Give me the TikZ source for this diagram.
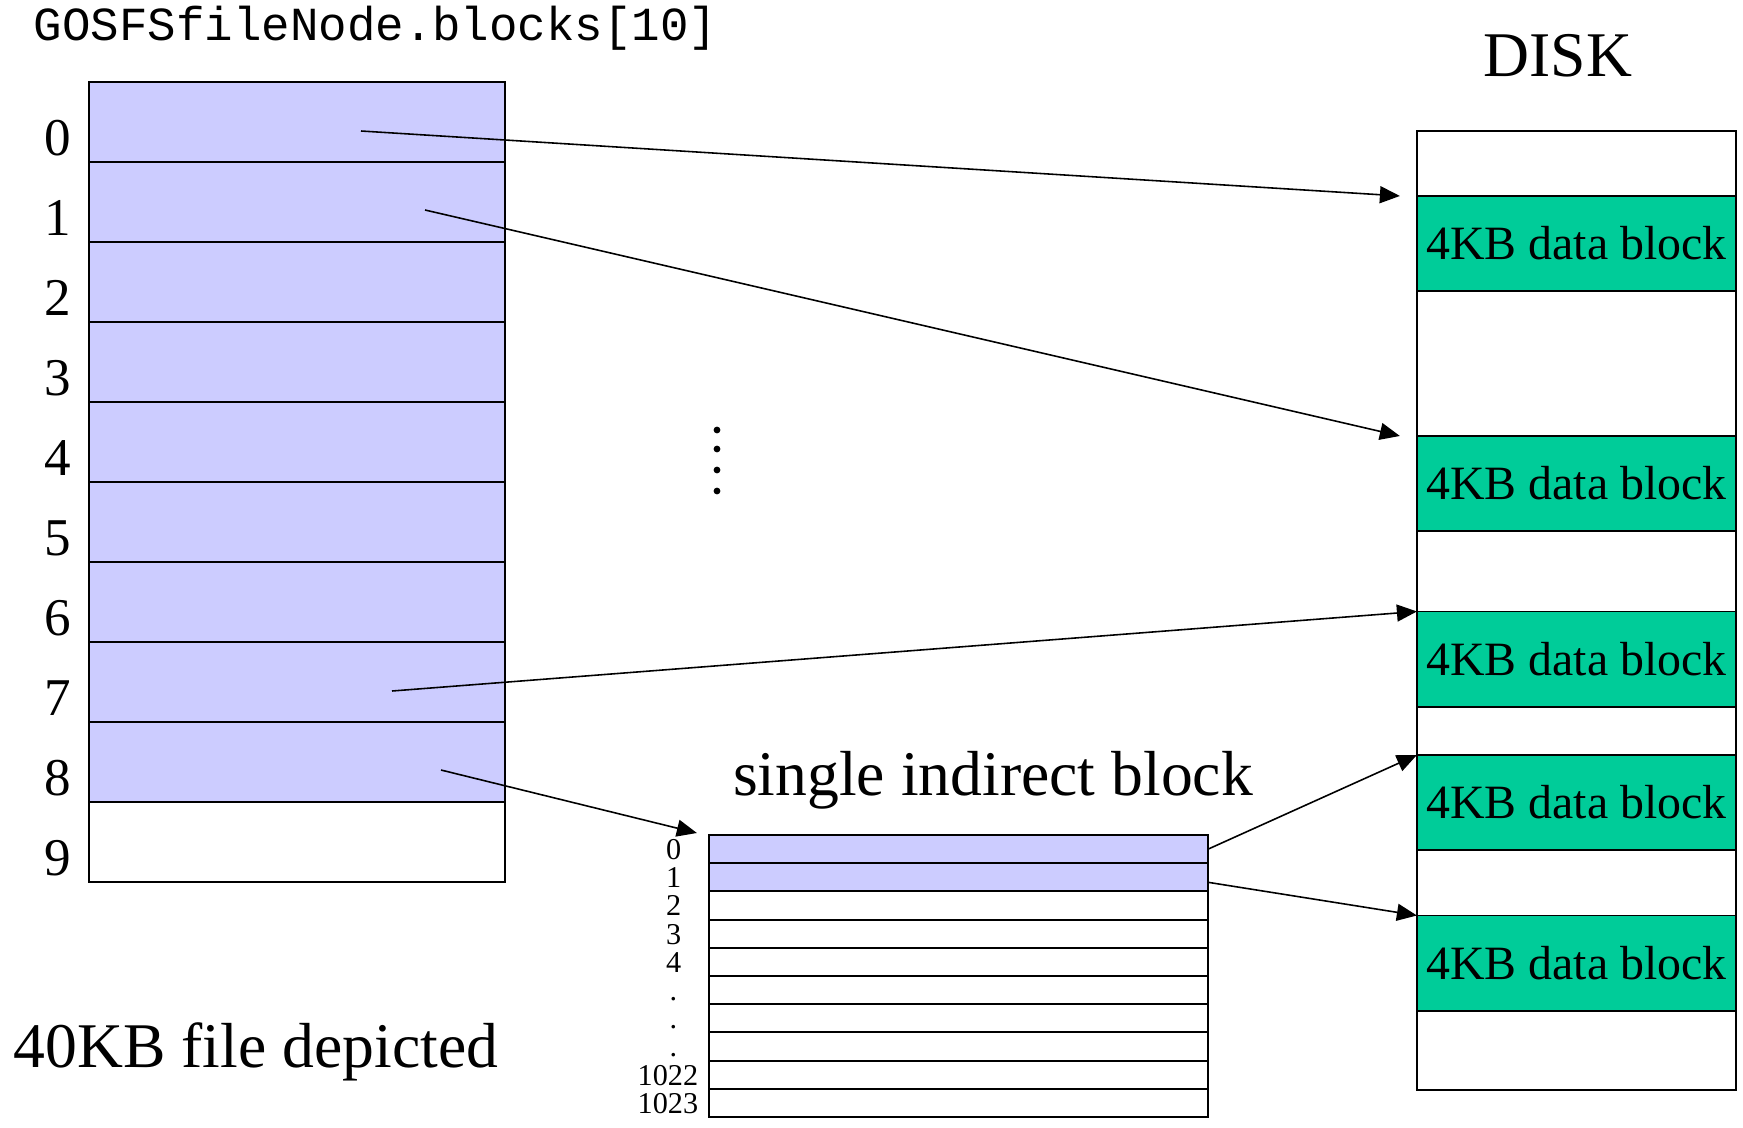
\documentclass[tikz,border=0pt]{standalone}
\usepackage{fontspec}
\setmainfont{Liberation Serif}
\setmonofont{Liberation Mono}
\usetikzlibrary{positioning,arrows.meta}
\definecolor{slotblue}{HTML}{CCCCFF}
\definecolor{diskgreen}{HTML}{00CC99}
\begin{document}
\begin{tikzpicture}[x=0.01cm,y=-0.01cm,
  slot/.style={draw,line width=0.55pt,minimum width=4.16cm,minimum height=0.8cm,inner sep=0pt,outer sep=0pt},
  islot/.style={draw,line width=0.55pt,minimum width=4.99cm,minimum height=0.282cm,inner sep=0pt,outer sep=0pt},
  dblock/.style={draw,line width=0.55pt,fill=diskgreen,minimum width=3.19cm,minimum height=0.95cm,inner sep=0pt,outer sep=0pt,font=\fontsize{13.6}{15}\selectfont},
  rowlabel/.style={inner sep=0pt,font=\fontsize{15.1}{17}\selectfont,text height=10.3pt,text depth=0pt},
  idxlabel/.style={inner sep=0pt,font=\fontsize{8.6}{9}\selectfont,text height=5.85pt,text depth=0pt},
  bigtext/.style={inner sep=0pt,font=\fontsize{18.1}{20}\selectfont},
  ptr/.style={-{Triangle[length=0.2cm,width=0.17cm]},line width=0.45pt}]
\useasboundingbox (0,0) rectangle (1743,1127);
\node[anchor=base west,inner sep=0pt,font=\ttfamily\fontsize{13.5}{15}\selectfont] (title) at (33,41) {GOSFSfileNode.blocks[10]};
\foreach \i/\c in {0/slotblue,1/slotblue,2/slotblue,3/slotblue,4/slotblue,5/slotblue,6/slotblue,7/slotblue,8/slotblue,9/white} {
  \node[slot,fill=\c] (b\i) at (297,{122+80*\i}) {};
  \node[rowlabel,left=0.17cm of b\i,yshift=-0.15cm] (n\i) {\i};
}
\node[bigtext,anchor=base west] (size) at (13,1067) {40KB file depicted};
\foreach \y in {430,449,470,491}
  \fill (717,\y) circle[radius=0.034cm];
\node[bigtext,anchor=base] (ind) at (993,795) {single indirect block};
\foreach \i/\t/\c/\g in {0/0/slotblue/0.27,1/1/slotblue/0.27,2/2/white/0.27,3/3/white/0.27,4/4/white/0.27,5/./white/0.31,6/./white/0.31,7/./white/0.31,8/1022/white/0.1,9/1023/white/0.1} {
  \node[islot,fill=\c] (i\i) at (958.5,{849.1+28.2*\i}) {};
  \node[idxlabel,left=\g cm of i\i] (m\i) {\t};
}
\node[bigtext,anchor=base] (disklabel) at (1558,76) {DISK};
\node[draw,line width=0.55pt,minimum width=3.19cm,minimum height=9.59cm,inner sep=0pt] (disk) at (1576.5,610.5) {};
\foreach \n/\y in {1/243.5,2/483.5,3/659,4/802.5,5/963}
  \node[dblock] (g\n) at (1576.5,\y) {4KB data block};
\coordinate (s0) at ([shift={(64,9)}]b0.center);
\coordinate (s1) at ([shift={(128,8)}]b1.center);
\coordinate (s7) at ([shift={(95,9)}]b7.center);
\coordinate (s8) at ([shift={(144,8)}]b8.center);
\draw[ptr] (s0) -- ([xshift=-0.17cm]g1.north west);
\draw[ptr] (s1) -- ([xshift=-0.17cm]g2.north west);
\draw[ptr] (s7) -- (g3.north west);
\draw[ptr] (s8) -- ([shift={(-12,-2)}]i0.north west);
\draw[ptr] (i0.east) -- (g4.north west);
\draw[ptr] ([yshift=-0.05cm]i1.east) -- (g5.north west);
\end{tikzpicture}
\end{document}
